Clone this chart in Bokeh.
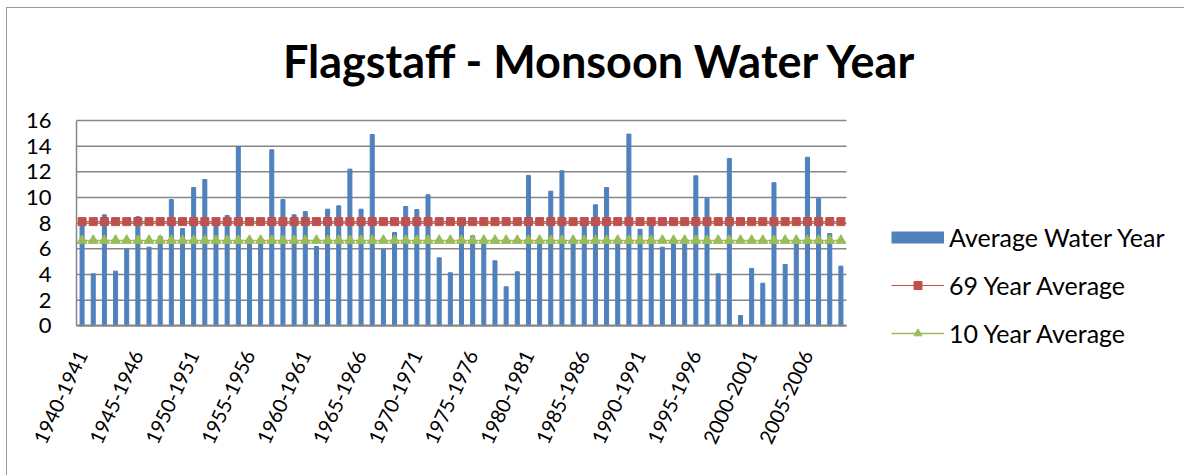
import math
from bokeh.plotting import figure
from bokeh.models import Range1d, FixedTicker, Legend, LegendItem, Label
from bokeh.embed import file_html
from bokeh.resources import INLINE

# ---- data ----
seasons = [f"{y}-{y + 1}" for y in range(1940, 2009)]
water_year = [
    8.0, 4.05, 8.65, 4.26, 6.0, 8.5, 6.13, 6.96, 9.84, 7.58,
    10.78, 11.40, 8.0, 8.6, 13.97, 6.5, 6.4, 13.72, 9.84, 8.65,
    8.91, 6.18, 9.09, 9.35, 12.21, 9.09, 14.91, 5.97, 7.27, 9.30,
    9.06, 10.21, 5.30, 4.13, 8.0, 7.01, 6.5, 5.07, 3.04, 4.21,
    11.71, 6.5, 10.49, 12.08, 6.5, 8.0, 9.43, 10.78, 6.5, 14.94,
    7.53, 8.0, 6.13, 6.4, 6.4, 11.69, 9.95, 4.05, 13.04, 0.80,
    4.47, 3.32, 11.15, 4.78, 6.4, 13.14, 9.95, 7.19, 4.65,
]
avg_69 = [8.12] * len(seasons)
avg_10 = [6.65] * len(seasons)
y_ticks = [0, 2, 4, 6, 8, 10, 12, 14, 16]
x_tick_idx = list(range(0, len(seasons), 5))

idx = list(range(len(seasons)))
n = len(seasons)

FONT = "Lato"
BLUE = "#4F81BD"
RED = "#C0504D"
GREEN = "#9BBB59"
GRID = "#868686"

# plot frame covers the whole canvas; the value area is placed through the ranges
p = figure(width=1178, height=468, output_backend="svg", toolbar_location=None,
           x_range=Range1d(-6.683, 98.878), y_range=Range1d(-11.745, 24.729),
           min_border_left=0, min_border_right=0, min_border_top=0,
           min_border_bottom=0)
p.outline_line_color = None
p.margin = (7, 0, 0, 6)
p.styles = {"border-top": "1px solid #9a9a9a", "border-left": "1px solid #9a9a9a"}
p.title = None

# horizontal gridlines limited to the value area
p.segment(x0=[-0.5] * len(y_ticks), x1=[n - 0.5] * len(y_ticks), y0=y_ticks, y1=y_ticks,
          line_color=GRID, line_width=1.5)

bars = p.vbar(x=idx, top=water_year, width=0.36, fill_color=BLUE, line_color=BLUE)
r_line = p.line(idx, avg_69, line_color=RED, line_width=1)
r_pts = p.scatter(idx, avg_69, marker="square", size=8, fill_color=RED, line_color=RED)
g_line = p.line(idx, avg_10, line_color=GREEN, line_width=1.5)
g_pts = p.scatter(idx, avg_10, marker="triangle", size=10, fill_color=GREEN, line_color=GREEN)
bar_key = p.line([float("nan")] * 2, [float("nan")] * 2, line_color=BLUE, line_width=12)

# axes
p.yaxis.fixed_location = -0.5
p.yaxis.ticker = FixedTicker(ticks=y_ticks)
p.yaxis.bounds = (0, 16)
p.yaxis.major_label_text_font = FONT
p.yaxis.major_label_text_font_size = "22px"
p.yaxis.major_label_text_color = "black"
p.yaxis.major_tick_line_color = None
p.yaxis.minor_tick_line_color = None
p.yaxis.major_label_standoff = 19
p.yaxis.axis_line_color = GRID
p.yaxis.axis_line_width = 1.5

p.xaxis.fixed_location = 0
p.xaxis.bounds = (-0.5, n - 0.5)
p.xaxis.ticker = FixedTicker(ticks=x_tick_idx)
p.xaxis.major_label_overrides = {i: seasons[i] for i in x_tick_idx}
p.xaxis.major_label_orientation = math.radians(65)
p.xaxis.major_label_text_font = FONT
p.xaxis.major_label_text_font_size = "20px"
p.xaxis.major_label_text_color = "black"
p.xaxis.major_tick_line_color = None
p.xaxis.minor_tick_line_color = None
p.xaxis.major_label_standoff = 20
p.xaxis.axis_line_color = GRID
p.xaxis.axis_line_width = 2

p.xgrid.grid_line_color = None
p.ygrid.grid_line_color = None

# title
title = Label(x=593, y=416, x_units="screen", y_units="screen",
              text="Flagstaff - Monsoon Water Year", text_align="center",
              text_baseline="alphabetic", text_font=FONT, text_font_style="bold",
              text_font_size="45px", text_color="black")
p.add_layout(title)

legend = Legend(items=[
    LegendItem(label="Average Water Year", renderers=[bar_key]),
    LegendItem(label="69 Year Average", renderers=[r_line, r_pts]),
    LegendItem(label="10 Year Average", renderers=[g_line, g_pts]),
], location=(884, 128), orientation="vertical", padding=0, margin=0,
    border_line_color=None, background_fill_alpha=0,
    glyph_width=53, glyph_height=20, label_height=24, spacing=18,
    label_standoff=5, label_text_font=FONT, label_text_font_size="25px",
    label_text_color="black")
p.add_layout(legend)

open("out.html", "w").write(file_html(p, INLINE))
